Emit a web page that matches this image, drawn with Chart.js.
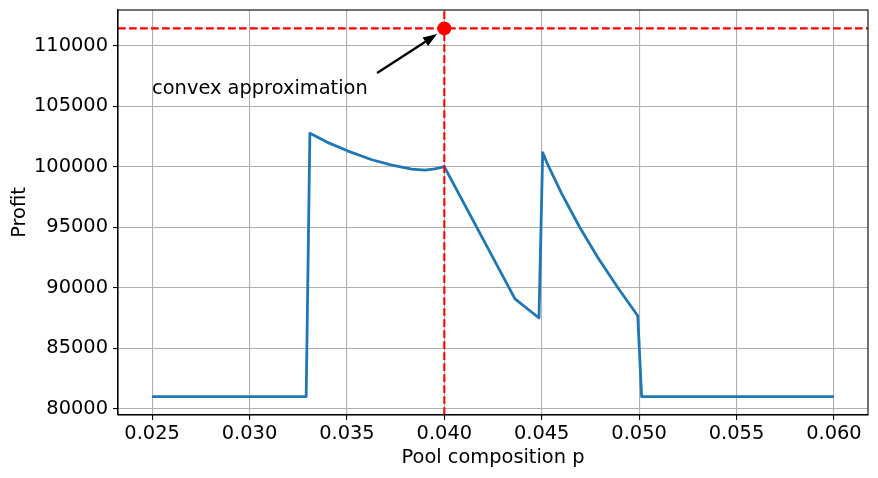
<!DOCTYPE html>
<html>
<head>
<meta charset="utf-8">
<script src="https://cdn.jsdelivr.net/npm/chart.js@4"></script>
<style>
  html, body { margin: 0; padding: 0; background: #fff; }
  #wrap { width: 878px; height: 478px; position: relative; }
</style>
</head>
<body>
<div id="wrap"><canvas id="chart"></canvas></div>
<script>
// Data
const profitP = [0.025, 0.03291, 0.03310, 0.0340, 0.03503, 0.03628, 0.03731, 0.03833, 0.03901, 0.03952, 0.0400,
  0.04363, 0.04486, 0.04505, 0.04532, 0.04600, 0.04695, 0.04788, 0.04891, 0.04993, 0.05013, 0.060];
const profitValue = [81000, 81000, 102770, 102020, 101320, 100580, 100140, 99810, 99730, 99830, 100020,
  89080, 87500, 101170, 100150, 97870, 95000, 92500, 90000, 87680, 81000, 81000];

const xTicks = [0.025, 0.030, 0.035, 0.040, 0.045, 0.050, 0.055, 0.060];
const yTicks = [80000, 85000, 90000, 95000, 100000, 105000, 110000];

// optimum marker + annotation
const optimumP = 0.040;
const optimumProfit = 111440;
const noteText = 'convex approximation';
const notePos = [0.025, 106000];
const arrowTail = [0.03655, 107750];
const arrowHead = [0.03963, 110970];

const FONT = 'DejaVu Sans';
Chart.defaults.font.family = FONT;
Chart.defaults.color = '#000';

// red dashed guide lines, dot, text and arrow
const overlay = {
  id: 'overlay',
  afterDatasetsDraw(chart) {
    const { ctx, chartArea: a, scales: { x, y } } = chart;
    const px = x.getPixelForValue(optimumP);
    const py = y.getPixelForValue(optimumProfit);
    ctx.save();
    ctx.beginPath();
    ctx.rect(a.left, a.top, a.right - a.left, a.bottom - a.top);
    ctx.clip();
    ctx.strokeStyle = '#ff0000';
    ctx.lineWidth = 2.08;
    ctx.setLineDash([7.7, 3.3]);
    ctx.beginPath(); ctx.moveTo(a.left, py); ctx.lineTo(a.right, py); ctx.stroke();
    ctx.beginPath(); ctx.moveTo(px, a.bottom); ctx.lineTo(px, a.top); ctx.stroke();
    ctx.setLineDash([]);
    ctx.fillStyle = '#ff0000';
    ctx.beginPath(); ctx.arc(px, py, 7, 0, Math.PI * 2); ctx.fill();
    ctx.restore();

    // text
    ctx.save();
    ctx.font = '19.4px "' + FONT + '"';
    ctx.fillStyle = '#000';
    ctx.textBaseline = 'alphabetic';
    ctx.fillText(noteText, x.getPixelForValue(notePos[0]), y.getPixelForValue(notePos[1]));

    // arrow
    const tx = x.getPixelForValue(arrowTail[0]), ty = y.getPixelForValue(arrowTail[1]);
    const hx = x.getPixelForValue(arrowHead[0]), hy = y.getPixelForValue(arrowHead[1]);
    const ang = Math.atan2(hy - ty, hx - tx);
    const hl = 14, hw = 5;
    const bx = hx - hl * Math.cos(ang), by = hy - hl * Math.sin(ang);
    ctx.strokeStyle = '#000';
    ctx.lineWidth = 2.3;
    ctx.beginPath(); ctx.moveTo(tx, ty); ctx.lineTo(bx, by); ctx.stroke();
    ctx.beginPath();
    ctx.moveTo(hx, hy);
    ctx.lineTo(bx + hw * Math.sin(ang), by - hw * Math.cos(ang));
    ctx.lineTo(bx - hw * Math.sin(ang), by + hw * Math.cos(ang));
    ctx.closePath();
    ctx.fillStyle = '#000';
    ctx.fill();
    ctx.restore();

    // frame (top/right spines too)
    ctx.save();
    ctx.strokeStyle = '#000';
    ctx.lineWidth = 1.1;
    ctx.strokeRect(a.left, a.top, a.right - a.left, a.bottom - a.top);
    ctx.restore();
  }
};

const ctx = document.getElementById('chart').getContext('2d');
new Chart(ctx, {
  type: 'line',
  data: {
    datasets: [{
      data: profitP.map((p, i) => ({ x: p, y: profitValue[i] })),
      borderColor: '#1f77b4',
      borderWidth: 2.8,
      pointRadius: 0,
      tension: 0,
      borderJoinStyle: 'round',
      fill: false
    }]
  },
  options: {
    responsive: true,
    maintainAspectRatio: false,
    animation: false,
    layout: { padding: { top: 10, right: 10, left: 0, bottom: 0 } },
    plugins: { legend: { display: false }, tooltip: { enabled: false } },
    scales: {
      x: {
        type: 'linear',
        min: 0.02325,
        max: 0.06175,
        afterBuildTicks: s => { s.ticks = xTicks.map(v => ({ value: v })); },
        afterFit: s => { s.height = 63; s.paddingLeft = 0; s.paddingRight = 0; },
        ticks: {
          autoSkip: false, maxRotation: 0, padding: 2,
          font: { size: 19.4 },
          callback: v => Number(v).toFixed(3)
        },
        grid: { color: '#b0b0b0', lineWidth: 1.1, tickColor: '#000', tickLength: 5, tickWidth: 1.1 },
        border: { display: true, color: '#000', width: 1.1 },
        title: { display: true, text: 'Pool composition p', font: { size: 19.4 }, padding: { top: 0, bottom: 8 } }
      },
      y: {
        type: 'linear',
        min: 79478,
        max: 112962,
        afterBuildTicks: s => { s.ticks = yTicks.map(v => ({ value: v })); },
        afterFit: s => { s.width = 118; s.paddingTop = 0; s.paddingBottom = 0; },
        ticks: {
          autoSkip: false, padding: 5,
          font: { size: 19.4 },
          callback: v => String(v)
        },
        grid: { color: '#b0b0b0', lineWidth: 1.1, tickColor: '#000', tickLength: 5, tickWidth: 1.1 },
        border: { display: true, color: '#000', width: 1.1 },
        title: { display: true, text: 'Profit', font: { size: 19.4 }, padding: { top: 8, bottom: 0 } }
      }
    }
  },
  plugins: [overlay]
});
</script>
</body>
</html>
